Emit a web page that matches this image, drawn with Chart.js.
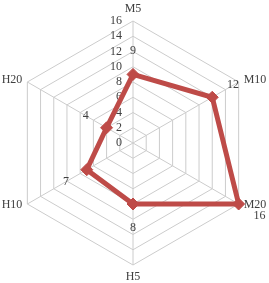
<!DOCTYPE html>
<html lang="en">
<head>
  <meta charset="UTF-8">
  <title>Radar</title>
  <script src="https://cdn.jsdelivr.net/npm/chart.js"></script>
  <style>
    body { margin: 0; background: #fff; }
    canvas { display: block; }
  </style>
</head>
<body>
  <canvas id="radarChart" width="269" height="283"></canvas>

  <script>
    const categories = ['M5', 'M10', 'M20', 'H5', 'H10', 'H20'];
    const values = [9, 12, 16, 8, 7, 4];
    const scaleMin = 0;
    const scaleMax = 16;
    const scaleStep = 2;

    const textColor = '#404040';
    const serif = '"Liberation Serif", "Times New Roman", serif';

    // tick labels sit left of the top axis, under the series line
    const tickLabels = {
      id: 'tickLabels',
      beforeDatasetsDraw(chart) {
        const r = chart.scales.r;
        const ctx = chart.ctx;
        ctx.save();
        ctx.fillStyle = textColor;
        ctx.font = '12px ' + serif;
        ctx.textAlign = 'right';
        ctx.textBaseline = 'middle';
        r.ticks.forEach(t => {
          const y = r.yCenter - r.getDistanceFromCenterForValue(t.value);
          ctx.fillText(String(t.value), r.xCenter - 11, y);
        });
        ctx.restore();
      }
    };

    // axis names and value labels
    const outerLabels = {
      id: 'outerLabels',
      afterDatasetsDraw(chart) {
        const r = chart.scales.r;
        const ctx = chart.ctx;
        ctx.save();
        ctx.fillStyle = textColor;
        ctx.font = '12px ' + serif;
        ctx.textBaseline = 'middle';

        categories.forEach((name, i) => {
          const p = r.getPointPosition(i, r.drawingArea);
          const dx = p.x - r.xCenter;
          if (Math.abs(dx) < 1) {
            ctx.textAlign = 'center';
            ctx.fillText(name, p.x, p.y + (p.y < r.yCenter ? -12 : 12));
          } else {
            ctx.textAlign = dx > 0 ? 'left' : 'right';
            const yOff = p.y < r.yCenter ? -2 : 1;
            ctx.fillText(name, p.x + (dx > 0 ? 5 : -5), p.y + yOff);
          }
        });

        ctx.textAlign = 'center';
        values.forEach((v, i) => {
          const p = r.getPointPosition(i, r.getDistanceFromCenterForValue(v) + 24);
          ctx.fillText(String(v), p.x, p.y);
        });
        ctx.restore();
      }
    };

    new Chart(document.getElementById('radarChart'), {
      type: 'radar',
      data: {
        labels: categories,
        datasets: [{
          data: values,
          borderColor: '#be4b48',
          backgroundColor: 'rgba(0,0,0,0)',
          borderWidth: 5,
          pointStyle: 'rectRot',
          pointRadius: 6,
          pointBackgroundColor: '#be4b48',
          pointBorderColor: '#be4b48',
          pointBorderWidth: 1,
          fill: false
        }]
      },
      options: {
        responsive: false,
        animation: false,
        devicePixelRatio: 1,
        layout: { padding: { left: 11, right: 13, top: 21, bottom: 17 } },
        plugins: {
          legend: { display: false },
          tooltip: { enabled: false }
        },
        scales: {
          r: {
            min: scaleMin,
            max: scaleMax,
            ticks: { stepSize: scaleStep, display: false },
            grid: { color: '#cccccc', lineWidth: 1, circular: false },
            angleLines: { color: '#cccccc', lineWidth: 1 },
            pointLabels: { display: false }
          }
        }
      },
      plugins: [tickLabels, outerLabels]
    });
  </script>
</body>
</html>
